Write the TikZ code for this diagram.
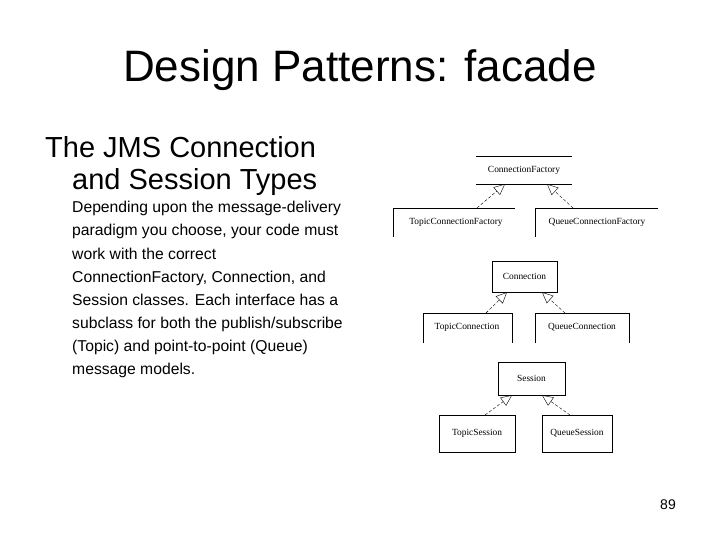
\documentclass[tikz,border=0pt]{standalone}
\usepackage{fontspec}
\setmainfont{Liberation Sans}
\newfontfamily\umlfont{Liberation Serif}
\usetikzlibrary{arrows.meta}
\begin{document}
\begin{tikzpicture}[x=1pt,y=-1pt,
  cls/.style={inner sep=0pt,font=\umlfont\fontsize{9.4}{10}\selectfont},
  gen/.style={densely dashed,thin,-{Triangle[open,length=11pt,width=10pt]}},
  txt/.style={anchor=base west,inner sep=0pt,font=\fontsize{15.7}{17}\selectfont}]
\useasboundingbox (0,0) rectangle (720,540);
\node[font=\fontsize{44}{50}\selectfont] (title) at (360,70) {Design Patterns: facade};
\node[anchor=base west,inner sep=0pt,font=\fontsize{29}{33}\selectfont] (h1) at (45,158) {The JMS Connection};
\node[anchor=base west,inner sep=0pt,font=\fontsize{29}{33}\selectfont] (h2) at (72,190) {and Session Types};
\node[txt] (b1) at (72,213) {Depending upon the message-delivery};
\node[txt] (b2) at (72,236) {paradigm you choose, your code must};
\node[txt] (b3) at (72,259) {work with the correct};
\node[txt] (b4) at (72,282) {ConnectionFactory, Connection, and};
\node[txt] (b5) at (72,305) {Session classes. Each interface has a};
\node[txt] (b6) at (72,328) {subclass for both the publish/subscribe};
\node[txt] (b7) at (72,351) {(Topic) and point-to-point (Queue)};
\node[txt] (b8) at (72,374) {message models.};
\node[font=\fontsize{14}{16}\selectfont] (pg) at (668,505) {89};

% diagram
\node[cls] (cf) at (524,170) {ConnectionFactory};
\draw (476,156) -- (572,156) (476,184) -- (572,184);
\node[cls] (tcf) at (456,222) {TopicConnectionFactory};
\draw (393,237) -- (393,208) -- (515,208);
\node[cls] (qcf) at (597,222) {QueueConnectionFactory};
\draw (535,237) -- (535,208) -- (658,208);
\coordinate (cf1) at (505,184); \coordinate (cf2) at (547,184);
\draw[gen] (477,208) -- (cf1);
\draw[gen] (573,208) -- (cf2);

\node[cls,draw,minimum width=65pt,minimum height=31pt] (con) at (524.5,276.5) {Connection};
\node[cls] (tc) at (467,327) {TopicConnection};
\draw (423,343) -- (423,313) -- (512,313) -- (512,343);
\node[cls] (qc) at (582,327) {QueueConnection};
\draw (535,343) -- (535,313) -- (629,313) -- (629,343);
\draw[gen] (486,313) -- (con.south west -| 507,0);
\draw[gen] (565,313) -- (con.south west -| 542,0);

\node[cls,draw,minimum width=67pt,minimum height=33pt] (ses) at (531.5,378.5) {Session};
\node[cls,draw,minimum width=76pt,minimum height=37pt] (ts) at (477,433.5) {TopicSession};
\node[cls,draw,minimum width=70pt,minimum height=37pt] (qs) at (577,433.5) {QueueSession};
\draw[gen] (485,415) -- (ses.south west -| 512,0);
\draw[gen] (570,415) -- (ses.south west -| 542,0);
\end{tikzpicture}
\end{document}
